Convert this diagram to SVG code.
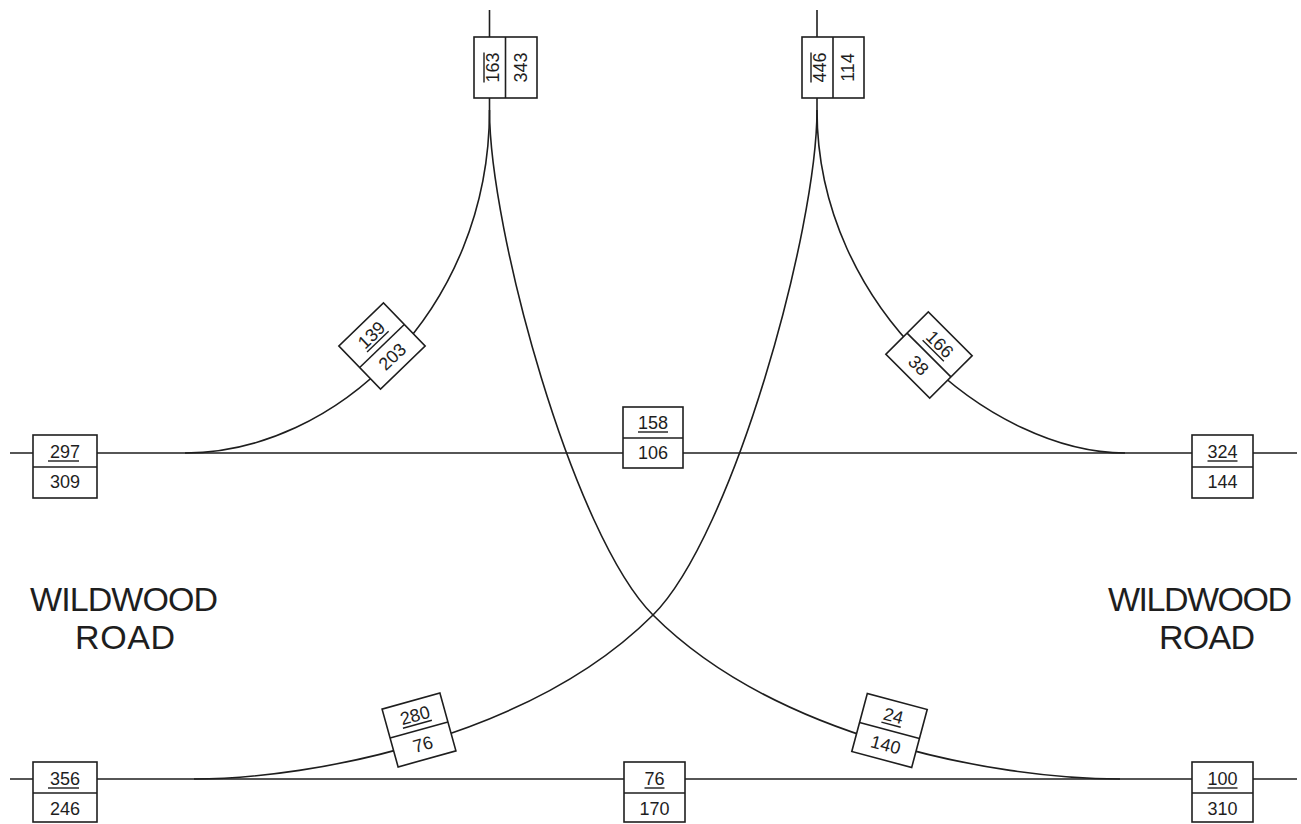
<svg xmlns="http://www.w3.org/2000/svg" width="1301" height="824" viewBox="0 0 1301 824">
  <style>
    .ln { fill: none; stroke: #1e1e1e; stroke-width: 1.6; }
    .bx { fill: #ffffff; stroke: #1e1e1e; stroke-width: 1.6; }
    .dv { stroke: #1e1e1e; stroke-width: 1.6; }
    .ul { stroke: #1e1e1e; stroke-width: 1.4; }
    .num { font-family: "Liberation Sans", Arial, sans-serif; font-size: 18px; fill: #1e1e1e; text-anchor: middle; }
    .lbl { font-family: "Liberation Sans", Arial, sans-serif; font-size: 34px; fill: #1e1e1e; text-anchor: middle; }
  </style>
  <rect width="1301" height="824" fill="#ffffff"/>

  <!-- roads and turning movements -->
  <g id="connectors">
    <line class="ln" x1="10" y1="453" x2="1297" y2="453"/>
    <line class="ln" x1="10" y1="779" x2="1297" y2="779"/>
    <line class="ln" x1="489.5" y1="10" x2="489.5" y2="110"/>
    <line class="ln" x1="817" y1="10" x2="817" y2="110"/>
    <!-- west leg, north approach -->
    <path class="ln" d="M489.5,110 C489.5,310 335,453 185,453"/>
    <!-- north approach to east, lower road -->
    <path class="ln" d="M489.5,110 C489.5,230 573,535 653,615 C774,736 992,779 1120,779"/>
    <!-- north approach to west, lower road -->
    <path class="ln" d="M817,110 C817,230 733,535 653,615 C532,736 314,779 194,779"/>
    <!-- east leg, north approach -->
    <path class="ln" d="M817,110 C817,310 994,453 1125,453"/>
  </g>

  <!-- vertical count boxes -->
  <g id="n163" transform="translate(505.5,67.5) rotate(-90)">
    <rect class="bx" x="-30.5" y="-31.5" width="61" height="63"/>
    <line class="dv" x1="-30.5" y1="0" x2="30.5" y2="0"/>
    <line class="ul" x1="-15" y1="-21.5" x2="15" y2="-21.5"/>
    <text class="num" x="0" y="-6.5">163</text>
    <text class="num" x="0" y="21">343</text>
  </g>
  <g id="n446" transform="translate(833,67.5) rotate(-90)">
    <rect class="bx" x="-30.5" y="-31" width="61" height="62"/>
    <line class="dv" x1="-30.5" y1="0" x2="30.5" y2="0"/>
    <line class="ul" x1="-15" y1="-22" x2="15" y2="-22"/>
    <text class="num" x="0" y="-7">446</text>
    <text class="num" x="0" y="20.5">114</text>
  </g>

  <!-- diagonal count boxes -->
  <g id="n139" transform="translate(382,346) rotate(-44)">
    <rect class="bx" x="-31" y="-30" width="62" height="60"/>
    <line class="dv" x1="-31" y1="0" x2="31" y2="0"/>
    <line class="ul" x1="-15" y1="-6" x2="15" y2="-6"/>
    <text class="num" x="0" y="-9">139</text>
    <text class="num" x="0" y="21">203</text>
  </g>
  <g id="n166" transform="translate(929,355) rotate(45)">
    <rect class="bx" x="-31" y="-30" width="62" height="60"/>
    <line class="dv" x1="-31" y1="0" x2="31" y2="0"/>
    <line class="ul" x1="-15" y1="-6" x2="15" y2="-6"/>
    <text class="num" x="0" y="-9">166</text>
    <text class="num" x="0" y="21">38</text>
  </g>
  <g id="n280" transform="translate(419,730) rotate(-15.5)">
    <rect class="bx" x="-30" y="-30" width="60" height="60"/>
    <line class="dv" x1="-30" y1="0" x2="30" y2="0"/>
    <line class="ul" x1="-15" y1="-6" x2="15" y2="-6"/>
    <text class="num" x="0" y="-9">280</text>
    <text class="num" x="0" y="21">76</text>
  </g>
  <g id="n24" transform="translate(889.5,730.5) rotate(15)">
    <rect class="bx" x="-31" y="-30" width="62" height="60"/>
    <line class="dv" x1="-31" y1="0" x2="31" y2="0"/>
    <line class="ul" x1="-10" y1="-6" x2="10" y2="-6"/>
    <text class="num" x="0" y="-9">24</text>
    <text class="num" x="0" y="21">140</text>
  </g>

  <!-- horizontal count boxes, upper road -->
  <g id="n297" transform="translate(65,467)">
    <rect class="bx" x="-32" y="-32" width="64" height="63"/>
    <line class="dv" x1="-32" y1="0" x2="32" y2="0"/>
    <line class="ul" x1="-17" y1="-6" x2="14" y2="-6"/>
    <text class="num" x="0" y="-9">297</text>
    <text class="num" x="0" y="21">309</text>
  </g>
  <g id="n158" transform="translate(653,438)">
    <rect class="bx" x="-30" y="-31" width="60" height="61"/>
    <line class="dv" x1="-30" y1="0" x2="30" y2="0"/>
    <line class="ul" x1="-15" y1="-6" x2="15" y2="-6"/>
    <text class="num" x="0" y="-9">158</text>
    <text class="num" x="0" y="21">106</text>
  </g>
  <g id="n324" transform="translate(1222.5,467)">
    <rect class="bx" x="-30.5" y="-32" width="61" height="63"/>
    <line class="dv" x1="-30.5" y1="0" x2="30.5" y2="0"/>
    <line class="ul" x1="-15" y1="-6" x2="15" y2="-6"/>
    <text class="num" x="0" y="-9">324</text>
    <text class="num" x="0" y="21">144</text>
  </g>

  <!-- horizontal count boxes, lower road -->
  <g id="n356" transform="translate(65,793)">
    <rect class="bx" x="-32" y="-31" width="64" height="60"/>
    <line class="dv" x1="-32" y1="0" x2="32" y2="0"/>
    <line class="ul" x1="-17" y1="-5" x2="14" y2="-5"/>
    <text class="num" x="0" y="-8">356</text>
    <text class="num" x="0" y="22">246</text>
  </g>
  <g id="n76" transform="translate(654.5,793)">
    <rect class="bx" x="-30.5" y="-31" width="61" height="60"/>
    <line class="dv" x1="-30.5" y1="0" x2="30.5" y2="0"/>
    <line class="ul" x1="-10" y1="-5" x2="10" y2="-5"/>
    <text class="num" x="0" y="-8">76</text>
    <text class="num" x="0" y="22">170</text>
  </g>
  <g id="n100" transform="translate(1222.5,793)">
    <rect class="bx" x="-30.5" y="-31" width="61" height="60"/>
    <line class="dv" x1="-30.5" y1="0" x2="30.5" y2="0"/>
    <line class="ul" x1="-15" y1="-5" x2="15" y2="-5"/>
    <text class="num" x="0" y="-8">100</text>
    <text class="num" x="0" y="22">310</text>
  </g>

  <!-- street names -->
  <g id="road-west">
    <text class="lbl" x="124" y="611" textLength="188" lengthAdjust="spacing">WILDWOOD</text>
    <text class="lbl" x="125" y="649" textLength="100" lengthAdjust="spacing">ROAD</text>
  </g>
  <g id="road-east">
    <text class="lbl" x="1200" y="611" textLength="184" lengthAdjust="spacing">WILDWOOD</text>
    <text class="lbl" x="1207" y="649" textLength="96" lengthAdjust="spacing">ROAD</text>
  </g>
</svg>
